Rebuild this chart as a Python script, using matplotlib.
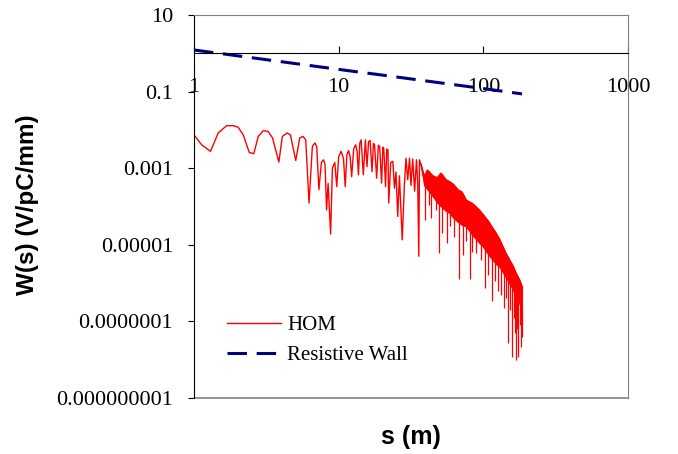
import numpy as np
import matplotlib
matplotlib.use("Agg")
import matplotlib.pyplot as plt

plt.rcParams['lines.scale_dashes'] = False

# ---- HOM wake, oscillating part (s in m, log10 of W in V/pC/mm)
hom_s = [1.00, 1.13, 1.30, 1.47, 1.68, 1.87, 2.02, 2.19, 2.41, 2.59,
         2.78, 3.01, 3.25, 3.49, 3.86, 4.08, 4.40, 4.64, 5.05, 5.38,
         5.67, 5.92, 6.24, 6.58, 6.85, 7.05, 7.30, 7.60, 7.85, 8.05,
         8.25, 8.45, 8.80, 9.05, 9.40, 9.70, 10.0, 10.4, 10.8, 11.1,
         11.4, 11.7, 12.0, 12.3, 12.7, 13.1, 13.4, 13.7, 14.0, 14.3,
         14.8, 15.3, 15.7, 16.1, 16.5, 17.0, 17.4, 17.7, 18.3, 18.8,
         19.2, 19.8, 20.2, 20.5, 21.1, 21.5, 21.9, 22.2, 22.9, 23.7,
         24.3, 24.9, 25.6, 26.3, 27.5, 28.5, 29.2, 30.0, 30.9, 31.6,
         32.5, 33.5, 34.5, 35.2, 35.8, 36.2, 37.0]
hom_log10w = [-2.13, -2.39, -2.56, -2.08, -1.89, -1.89, -1.93, -2.13, -2.59, -2.62,
              -2.17, -2.02, -2.04, -2.21, -2.84, -2.17, -2.08, -2.13, -2.80, -2.21,
              -2.17, -2.26, -3.91, -2.43, -2.34, -2.43, -3.56, -2.85, -2.78, -2.90,
              -4.09, -3.40, -4.72, -3.00, -2.85, -3.48, -2.70, -2.56, -2.75, -3.48,
              -2.65, -2.54, -2.70, -3.22, -2.50, -2.39, -2.55, -3.17, -2.35, -2.26,
              -3.17, -2.26, -2.96, -2.30, -2.28, -3.09, -2.35, -2.39, -3.26, -2.40,
              -2.43, -3.39, -2.45, -2.48, -3.48, -2.50, -2.52, -3.91, -2.85, -2.82,
              -3.52, -3.10, -4.26, -3.20, -4.87, -3.39, -2.74, -3.30, -2.74, -3.45,
              -2.76, -3.60, -2.78, -3.40, -5.30, -2.78, -2.90]

# ---- HOM wake, dense part: envelope of the fast oscillation
band_s = [37.0, 39.0, 41.0, 44.8, 48.0, 50.9, 55.1, 58.3, 62.0, 66.5,
          71.0, 76.0, 84.0, 93.7, 99.0, 108.0, 122.0, 129.0, 143.0, 160.0,
          168.0, 178.0, 185.0]
band_hi = [-2.90, -3.22, -3.05, -3.20, -3.25, -3.13, -3.30, -3.35, -3.42, -3.56,
           -3.62, -3.83, -3.92, -4.09, -4.20, -4.38, -4.69, -4.85, -5.22, -5.55,
           -5.74, -5.92, -6.09]
band_lo = [-2.95, -3.45, -3.55, -3.74, -3.90, -4.00, -4.12, -4.17, -4.30, -4.40,
           -4.48, -4.52, -4.75, -4.95, -5.04, -5.25, -5.50, -5.57, -5.85, -6.17,
           -6.35, -6.55, -6.70]

# downward spikes inside the dense part
spike_s = [39.5, 42.0, 43.6, 47.0, 49.0, 51.8, 56.0, 58.5, 63.0, 68.4,
           72.2, 76.0, 80.8, 84.0, 89.3, 96.0, 103.0, 108.0, 114.0, 120.0,
           126.0, 132.0, 138.0, 143.0, 147.0, 152.0, 158.0, 162.0, 165.0, 168.0,
           172.0, 175.0, 178.0, 181.0, 184.0]
spike_lo = [-4.35, -3.95, -4.30, -4.10, -5.22, -4.70, -4.96, -4.50, -4.80, -5.90,
            -5.26, -4.90, -5.90, -5.20, -5.22, -5.40, -6.13, -5.80, -6.48, -5.95,
            -6.20, -6.30, -6.65, -6.40, -7.57, -6.70, -7.92, -6.90, -7.30, -8.00,
            -7.20, -7.92, -7.10, -7.66, -7.40]

# ---- resistive wall wake
rw_s = [1, 2, 5, 10, 20, 50, 100, 185]
rw_w = [1.22, 0.86, 0.54, 0.38, 0.27, 0.17, 0.12, 0.087]

yticks = [10, 0.1, 0.001, 0.00001, 0.0000001, 0.000000001]
ytick_labels = ['10', '0.1', '0.001', '0.00001', '0.0000001', '0.000000001']
xticks = [1, 10, 100, 1000]
xtick_labels = ['1', '10', '100', '1000']

serif = 'Liberation Serif'
sans = 'Liberation Sans'

fig = plt.figure(figsize=(6.78, 4.54), dpi=100)
ax = fig.add_axes([194 / 678, 1 - 398 / 454, 434 / 678, 383 / 454])
ax.set_xscale('log')
ax.set_yscale('log')
ax.set_xlim(1, 1000)
ax.set_ylim(1e-9, 10)

red = '#ff0000'
hom_line, = ax.plot(hom_s, 10 ** np.array(hom_log10w), color=red, lw=1.0, label='HOM')
ax.plot(band_s, 10 ** np.array(band_hi), color=red, lw=1.0)
ax.fill_between(band_s, 10 ** np.array(band_lo), 10 ** np.array(band_hi),
                color=red, lw=0.8)
spike_top = 10 ** np.interp(spike_s, band_s, band_lo)
ax.vlines(spike_s, 10 ** np.array(spike_lo), spike_top, color=red, lw=0.9)

rw_line, = ax.plot(rw_s, rw_w, color='#000080', lw=2.2, dashes=(14, 7),
                   label='Resistive Wall')

# frame: grey box, black y axis, x axis crossing at W = 1
grey = '#808080'
for side in ('top', 'right'):
    ax.spines[side].set_color(grey)
ax.spines['left'].set_color('black')
ax.spines['bottom'].set_position(('data', 1))
ax.spines['bottom'].set_color('black')
ax.plot([0, 1], [0, 0], transform=ax.transAxes, color=grey, lw=1.2, clip_on=False)

ax.set_xticks(xticks)
ax.set_xticklabels(xtick_labels, fontfamily=serif, fontsize=16)
ax.set_yticks(yticks)
ax.set_yticklabels(ytick_labels, fontfamily=serif, fontsize=16)
ax.minorticks_off()
ax.tick_params(axis='x', direction='in', length=5, pad=18)
ax.tick_params(axis='y', direction='out', length=4.3, pad=10.8)

fig.text(411 / 678, 1 - 437 / 454, 's (m)', fontfamily=sans, fontweight='bold',
         fontsize=18, ha='center', va='center')
fig.text(28 / 678, 1 - 205 / 454, 'W(s) (V/pC/mm)', fontfamily=sans, fontweight='bold',
         fontsize=17.5, ha='center', va='center', rotation=90)

ax.legend(handles=[hom_line, rw_line], loc='upper left',
          bbox_to_anchor=(0.076, 0.215), frameon=False, borderpad=0,
          borderaxespad=0, handlelength=2.6, handletextpad=0.3, labelspacing=0.5,
          prop={'family': serif, 'size': 15})

fig.savefig('out.png', dpi=100)
